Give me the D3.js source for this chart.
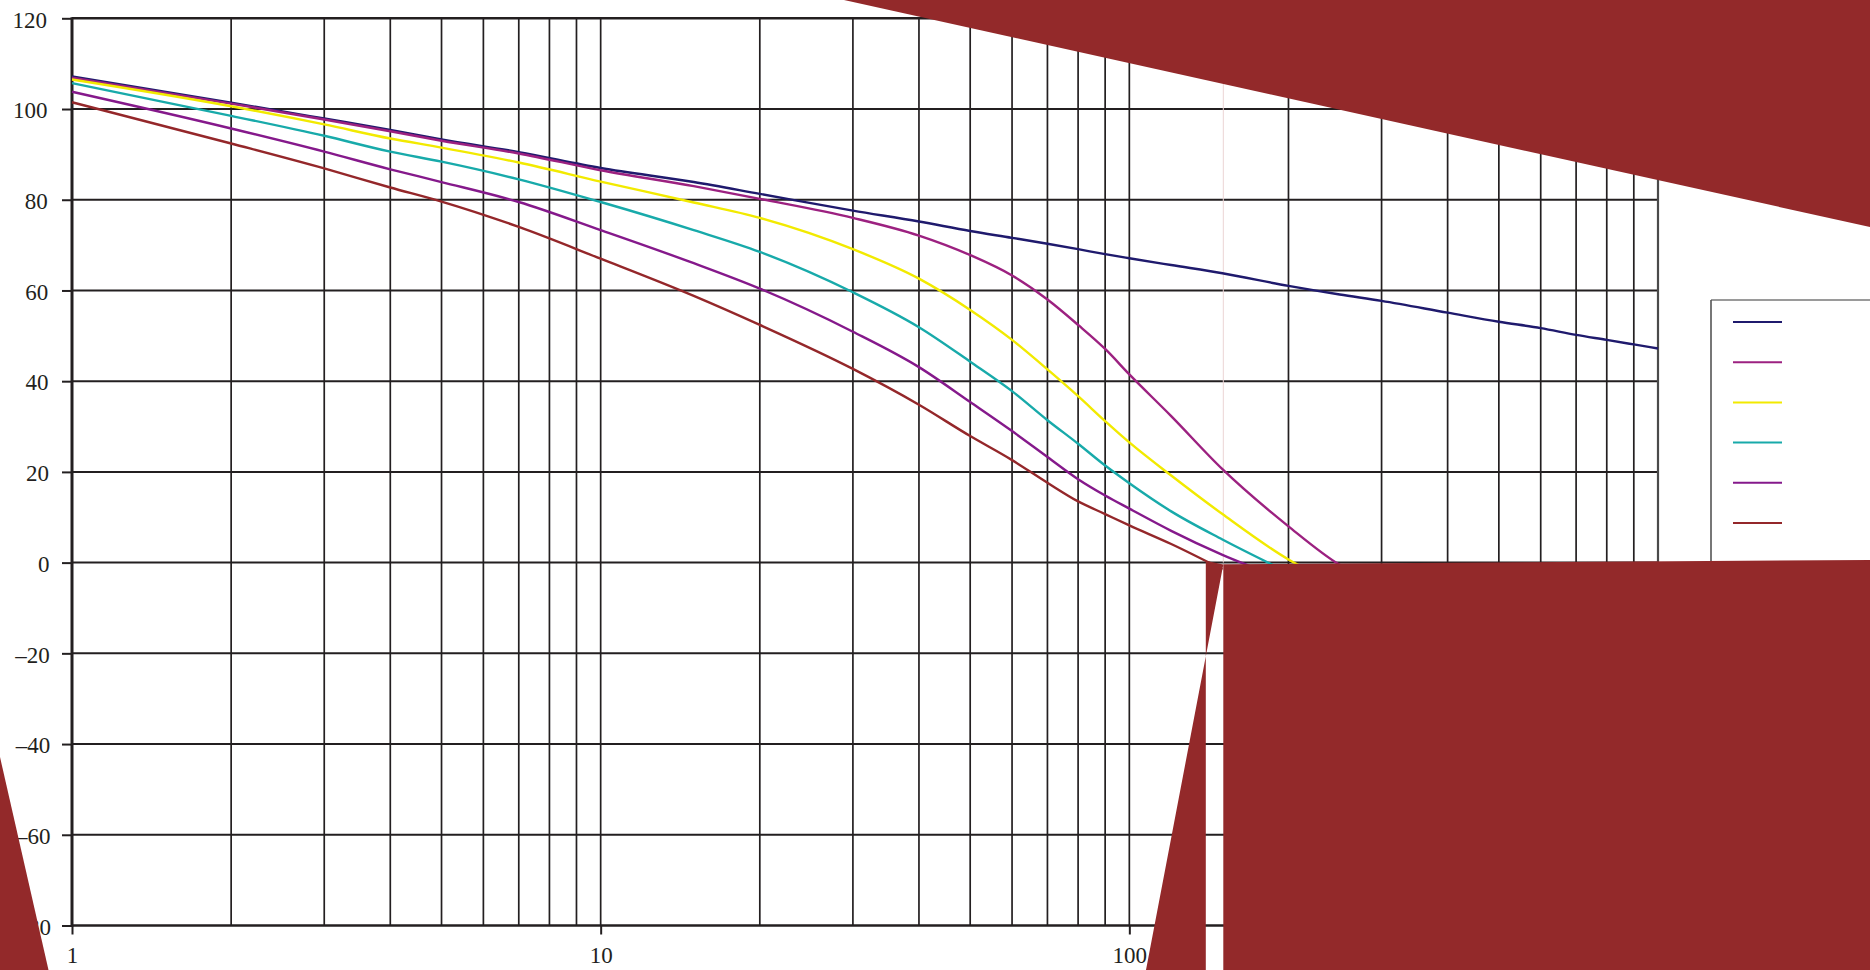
<!DOCTYPE html>
<html>
<head>
<meta charset="utf-8">
<script src="https://cdn.jsdelivr.net/npm/d3@7/dist/d3.min.js"></script>
<style>
  html, body { margin: 0; padding: 0; background: #ffffff; }
  svg { display: block; }
  .tick text { font-family: "Liberation Serif", "Times New Roman", serif; font-size: 23px; fill: #231f20; }
</style>
</head>
<body>
<svg id="chart" width="1870" height="970"></svg>
<script>
// Frequency samples (log axis) shared by every curve
const freqs = [1, 2, 3, 4, 5, 7, 10, 15, 20, 30, 40, 50, 60, 70, 80, 90, 100, 120, 150, 200, 250, 300, 400, 500, 600, 700, 800, 900, 1000];

// Gain curves, one value per frequency sample (null = curve not drawn there)
const curveA = [107.2, 101.4, 97.9, 95.4, 93.3, 90.5, 87.0, 83.9, 81.3, 77.6, 75.2, 73.1, 71.6, 70.3, 69.1, 68.0, 67.1, 65.6, 63.8, 61.0, 59.1, 57.7, 55.1, 53.1, 51.7, 50.2, 49.1, 48.1, 47.2];
const curveB = [106.9, 101.2, 97.7, 95.1, 93.0, 90.2, 86.5, 83.0, 80.2, 76.0, 72.1, 67.8, 63.3, 58.0, 52.4, 47.1, 41.5, 32.3, 20.6, 8.0, -0.5, -5.0, null, null, null, null, null, null, null];
const curveC = [106.5, 100.6, 96.6, 93.5, 91.5, 88.2, 84.0, 79.4, 76.0, 69.1, 62.6, 55.7, 49.1, 42.6, 36.7, 31.2, 26.5, 19.2, 10.7, 0.7, -5.0, null, null, null, null, null, null, null, null];
const curveD = [105.7, 98.5, 94.1, 90.6, 88.4, 84.5, 79.5, 73.3, 68.5, 59.6, 51.9, 44.3, 37.8, 31.4, 26.2, 21.4, 17.5, 11.3, 5.1, -2.2, null, null, null, null, null, null, null, null, null];
const curveE = [103.8, 95.7, 90.6, 86.7, 83.9, 79.5, 73.3, 66.0, 60.4, 50.9, 43.1, 35.4, 29.0, 23.3, 18.4, 14.8, 11.9, 7.0, 1.7, -4.0, null, null, null, null, null, null, null, null, null];
const curveF = [101.5, 92.4, 86.9, 82.7, 79.6, 74.0, 67.0, 58.8, 52.4, 42.7, 34.8, 27.9, 22.6, 17.6, 13.5, 10.7, 8.2, 4.1, -1.5, null, null, null, null, null, null, null, null, null, null];

const seriesValues = [curveA, curveB, curveC, curveD, curveE, curveF];
const seriesColors = ["#1f1a6d", "#9c2180", "#f2ea00", "#18aaaa", "#85198b", "#94272a"];

// Axis tick values
const yTickValues = [-80, -60, -40, -20, 0, 20, 40, 60, 80, 100, 120];
const xLabelValues = [1, 10, 100, 1000];

const svg = d3.select("#chart");
const ink = "#231f20";

const x = d3.scaleLog().domain([1, 1000]).range([72, 1658]);
const y = d3.scaleLinear().domain([-80, 120]).range([925.5, 18.3]);

// Grid: vertical lines on every log sub-division, horizontal every 20
const grid = svg.append("g");
grid.selectAll("line.v")
  .data(x.ticks().filter(d => d > 1 && d < 1000))
  .join("line")
  .attr("x1", d => x(d)).attr("x2", d => x(d))
  .attr("y1", y(120)).attr("y2", y(-80))
  .attr("stroke", ink).attr("stroke-width", 1.7);

grid.selectAll("line.h")
  .data(yTickValues)
  .join("line")
  .attr("x1", x(1)).attr("x2", x(1000))
  .attr("y1", d => y(d)).attr("y2", d => y(d))
  .attr("stroke", ink).attr("stroke-width", d => (d === 120 || d === -80) ? 2.6 : 2);

// Right frame edge
svg.append("line")
  .attr("x1", x(1000)).attr("x2", x(1000))
  .attr("y1", y(120)).attr("y2", y(-80))
  .attr("stroke", "#4a4a4a").attr("stroke-width", 2.2);

// Left axis with ticks and labels
const yAxis = d3.axisLeft(y)
  .tickValues(yTickValues)
  .tickSize(10)
  .tickPadding(15)
  .tickFormat(d => d < 0 ? "\u2013" + Math.abs(d) : String(d));
const gy = svg.append("g").attr("transform", `translate(${x(1)},0)`).call(yAxis);
gy.select(".domain").remove();
gy.selectAll(".tick line").attr("stroke", ink).attr("stroke-width", 2);
// labels drift slightly rightwards towards the bottom of the axis
gy.selectAll(".tick text")
  .attr("dy", "0.38em")
  .attr("x", d => -25 + (120 - d) / 200 * 4)
  .attr("fill", ink);

// Bottom axis, labelled at decades
const xAxis = d3.axisBottom(x)
  .tickValues(xLabelValues)
  .tickSize(9)
  .tickPadding(12)
  .tickFormat(d3.format("d"));
const gx = svg.append("g").attr("transform", `translate(0,${y(-80)})`).call(xAxis);
gx.select(".domain").remove();
gx.selectAll(".tick line").attr("stroke", ink).attr("stroke-width", 2);
gx.selectAll(".tick text").attr("fill", ink);

// Left axis line
svg.append("line")
  .attr("x1", x(1)).attr("x2", x(1))
  .attr("y1", y(120) - 1).attr("y2", y(-80) + 1)
  .attr("stroke", ink).attr("stroke-width", 3);

// Faint vertical hairline
svg.append("line")
  .attr("x1", 1223.3).attr("x2", 1223.3)
  .attr("y1", y(120)).attr("y2", y(0))
  .attr("stroke", "#ecd4d4").attr("stroke-width", 1);

// Curves
const line = d3.line()
  .defined(d => d.v !== null)
  .curve(d3.curveMonotoneX)
  .x(d => x(d.f))
  .y(d => y(d.v));

svg.append("g").selectAll("path")
  .data(seriesValues.map((vals, i) => ({ color: seriesColors[i], pts: freqs.map((f, j) => ({ f, v: vals[j] })) })))
  .join("path")
  .attr("d", d => line(d.pts))
  .attr("fill", "none")
  .attr("stroke", d => d.color)
  .attr("stroke-width", 2.4)
  .attr("stroke-linejoin", "round");

// Legend box
const legend = svg.append("g");
legend.append("rect")
  .attr("x", 1711).attr("y", 300).attr("width", 200).attr("height", 280)
  .attr("fill", "#ffffff").attr("stroke", "none");
legend.append("line").attr("x1", 1711).attr("x2", 1870).attr("y1", 300).attr("y2", 300)
  .attr("stroke", "#9a9a9a").attr("stroke-width", 2);
legend.append("line").attr("x1", 1711).attr("x2", 1711).attr("y1", 300).attr("y2", 580)
  .attr("stroke", "#555555").attr("stroke-width", 1.6);
legend.selectAll("line.key")
  .data(seriesColors)
  .join("line")
  .attr("x1", 1733).attr("x2", 1782)
  .attr("y1", (d, i) => 322 + i * 40.2).attr("y2", (d, i) => 322 + i * 40.2)
  .attr("stroke", d => d).attr("stroke-width", 2);

// Solid overlay shapes
const fillRed = "#93292a";
const shapes = [
  [[844, 0], [1870, 0], [1870, 227]],
  [[1223.3, 564.3], [1870, 560], [1870, 970], [1223.3, 970]],
  [[1205.8, 560.8], [1223.3, 564.6], [1146, 970], [1205.8, 970]],
  [[0, 757], [48.5, 970], [0, 970]]
];
svg.append("g").selectAll("path")
  .data(shapes)
  .join("path")
  .attr("d", d => "M" + d.map(p => p.join(",")).join("L") + "Z")
  .attr("fill", fillRed)
  .attr("fill-rule", "nonzero");
</script>
</body>
</html>
